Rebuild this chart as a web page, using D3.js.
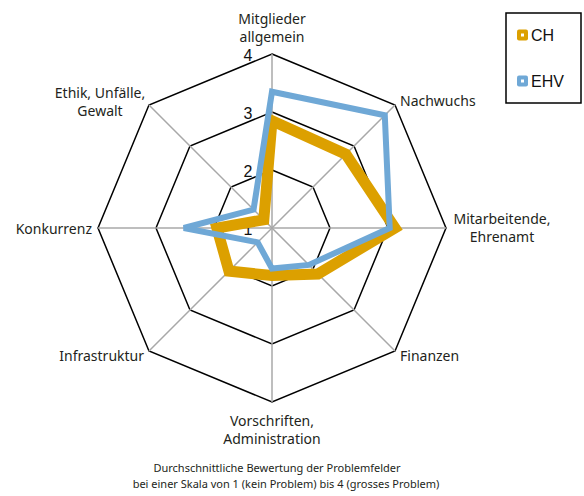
<!DOCTYPE html>
<html>
<head>
<meta charset="utf-8">
<script src="https://cdn.jsdelivr.net/npm/d3@7"></script>
<style>
  body { margin: 0; background: #fff; }
  svg { display: block; }
  .lbl { font-family: "Noto Sans", "Open Sans", sans-serif; font-size: 14px; fill: #231f20; }
  .tick { font-family: "Liberation Sans", Arial, sans-serif; font-size: 16px; fill: #111; }
  .leg { font-family: "Liberation Sans", Arial, sans-serif; font-size: 16px; fill: #111; }
  .note { font-family: "Noto Sans", "Open Sans", sans-serif; font-size: 11px; fill: #231f20; }
</style>
</head>
<body>
<div id="chart"></div>
<script>
// Radar chart: average rating of problem fields, CH vs EHV

const axes = [
  ["Mitglieder", "allgemein"],
  ["Nachwuchs"],
  ["Mitarbeitende,", "Ehrenamt"],
  ["Finanzen"],
  ["Vorschriften,", "Administration"],
  ["Infrastruktur"],
  ["Konkurrenz"],
  ["Ethik, Unfälle,", "Gewalt"]
];
const ticks = [1, 2, 3, 4];
const chValues  = [2.85, 2.8, 3.12, 2.12, 1.82, 2.05, 1.95, 1.2];
const ehvValues = [3.35, 3.75, 3.03, 1.9, 1.7, 1.35, 2.52, 1.45];
const seriesNames = ["CH", "EHV"];
const colors = { CH: "#dca000", EHV: "#6fa8d6" };
const notes = [
  "Durchschnittliche Bewertung der Problemfelder",
  "bei einer Skala von 1 (kein Problem) bis 4 (grosses Problem)"
];

const width = 584, height = 496;
const cx = 272, cy = 228, R = 174;

const svg = d3.select("#chart").append("svg")
  .attr("width", width)
  .attr("height", height);

const r = d3.scaleLinear().domain([1, 4]).range([0, R]);
const angle = i => i * 2 * Math.PI / axes.length;
const pt = (i, v) => [cx + r(v) * Math.sin(angle(i)), cy - r(v) * Math.cos(angle(i))];

const g = svg.append("g");

// grid rings
ticks.filter(t => t > 1).forEach(t => {
  g.append("path")
    .attr("d", d3.line()(axes.map((a, i) => pt(i, t))) + "Z")
    .attr("fill", "none")
    .attr("stroke", "#000")
    .attr("stroke-width", 1.5);
});

// spokes
axes.forEach((a, i) => {
  const [x, y] = pt(i, 4);
  g.append("line")
    .attr("x1", cx).attr("y1", cy)
    .attr("x2", x).attr("y2", y)
    .attr("stroke", "#a8a8a8")
    .attr("stroke-width", 1.5);
});

// tick labels
ticks.forEach(t => {
  g.append("text")
    .attr("class", "tick")
    .attr("x", cx - 24)
    .attr("y", cy - r(t) + 1)
    .attr("text-anchor", "middle")
    .attr("dominant-baseline", "central")
    .text(t);
});

// series
const line = d3.line().curve(d3.curveLinearClosed);
[[chValues, "CH", 11], [ehvValues, "EHV", 6]].forEach(([vals, name, w]) => {
  g.append("path")
    .attr("d", line(vals.map((v, i) => pt(i, v))))
    .attr("fill", "none")
    .attr("stroke", colors[name])
    .attr("stroke-width", w)
    .attr("stroke-linejoin", "miter");
});

// axis labels
const labelPos = [
  { x: 272, y: 18, anchor: "middle" },
  { x: 400, y: 100, anchor: "start" },
  { x: 502, y: 218, anchor: "middle" },
  { x: 400, y: 355, anchor: "start" },
  { x: 272, y: 420, anchor: "middle" },
  { x: 144, y: 355, anchor: "end" },
  { x: 92, y: 228, anchor: "end" },
  { x: 100, y: 92, anchor: "middle" }
];
axes.forEach((lines, i) => {
  const p = labelPos[i];
  const t = g.append("text")
    .attr("class", "lbl")
    .attr("text-anchor", p.anchor);
  lines.forEach((s, k) => {
    t.append("tspan")
      .attr("x", p.x)
      .attr("y", p.y + k * 18.5)
      .attr("dominant-baseline", "central")
      .text(s);
  });
});

// legend
const leg = svg.append("g");
leg.append("rect")
  .attr("x", 506).attr("y", 13)
  .attr("width", 75).attr("height", 90)
  .attr("fill", "#fff")
  .attr("stroke", "#000")
  .attr("stroke-width", 1.5);
seriesNames.forEach((name, k) => {
  const y = 35 + k * 46;
  leg.append("rect")
    .attr("x", 517).attr("y", y - 5.5)
    .attr("width", 11).attr("height", 11)
    .attr("rx", 2)
    .attr("fill", colors[name]);
  leg.append("rect")
    .attr("x", 521).attr("y", y - 1.5)
    .attr("width", 3).attr("height", 3)
    .attr("fill", "#fff");
  leg.append("text")
    .attr("class", "leg")
    .attr("x", 531).attr("y", y)
    .attr("dominant-baseline", "central")
    .text(name);
});

// footnote
const noteX = [277, 286];
notes.forEach((s, k) => {
  svg.append("text")
    .attr("class", "note")
    .attr("x", noteX[k])
    .attr("y", 467 + k * 16)
    .attr("text-anchor", "middle")
    .attr("dominant-baseline", "central")
    .text(s);
});
</script>
</body>
</html>
